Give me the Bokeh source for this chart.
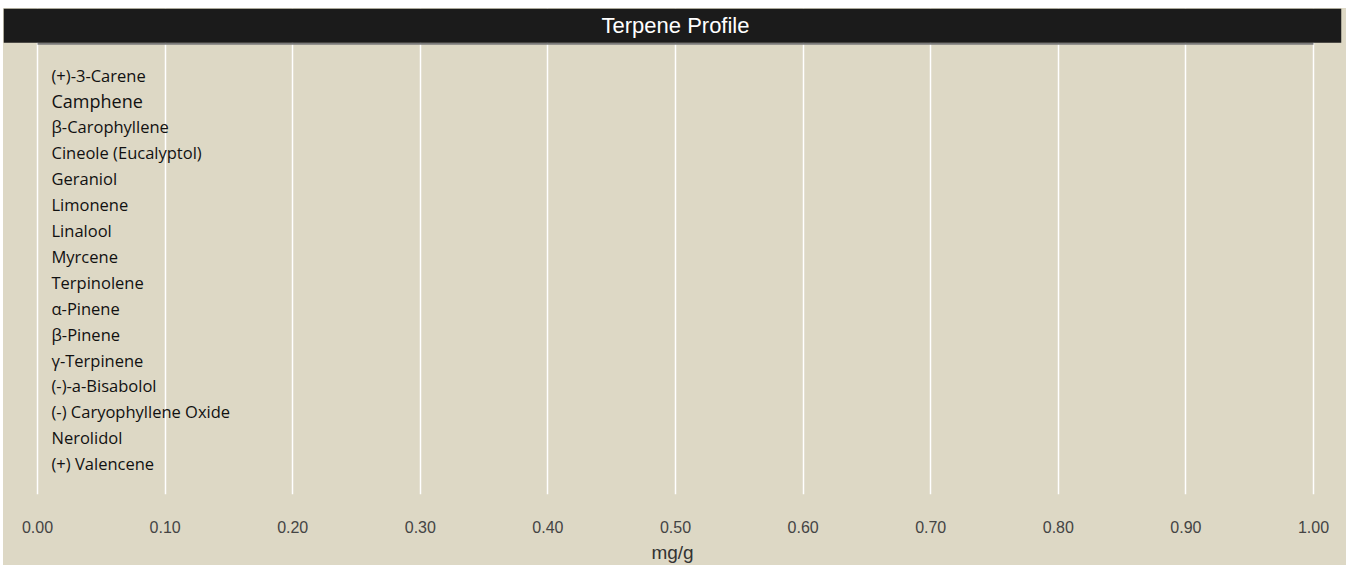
from bokeh.plotting import figure
from bokeh.models import (Range1d, FixedTicker, ColumnDataSource, BoxAnnotation,
                          Label, CustomJSTickFormatter)
from bokeh.core.properties import value
from bokeh.embed import file_html
from bokeh.resources import INLINE

terpenes = ["(+)-3-Carene", "Camphene", "β-Carophyllene", "Cineole (Eucalyptol)",
            "Geraniol", "Limonene", "Linalool", "Myrcene", "Terpinolene",
            "α-Pinene", "β-Pinene", "γ-Terpinene", "(-)-a-Bisabolol",
            "(-) Caryophyllene Oxide", "Nerolidol", "(+) Valencene"]
amounts = [0.0, 0.0, 0.0, 0.0, 0.0, 0.0, 0.0, 0.0, 0.0, 0.0, 0.0, 0.0, 0.0, 0.0, 0.0, 0.0]
tick_values = [0.0, 0.1, 0.2, 0.3, 0.4, 0.5, 0.6, 0.7, 0.8, 0.9, 1.0]
title_text = "Terpene Profile"
x_label = "mg/g"

BG = "#DDD8C5"
n = len(terpenes)
pos = list(range(n))
sizes = ["16.5px"] * n
sizes[1] = "18px"

src = ColumnDataSource(dict(y=pos, name=terpenes, val=amounts, size=sizes,
                            zero=[0.0] * n))

Y_TOP = -2.571
p = figure(width=1343, height=557, output_backend="svg", toolbar_location=None,
           x_range=Range1d(-0.02665, 1.02194), y_range=Range1d(n - 1 + 1.19, Y_TOP),
           y_axis_location=None, min_border_left=0, min_border_right=5,
           min_border_top=0, min_border_bottom=68)
p.margin = (8, 0, 0, 3)
p.styles = {"background-color": BG}
p.background_fill_color = BG
p.background_fill_alpha = 0
p.border_fill_color = BG
p.border_fill_alpha = 0
p.outline_line_color = None

# bars (all values are zero in the reference)
p.hbar(y="y", left="zero", right="val", height=0.6, source=src,
       fill_color="#6a9a3a", line_color=None)

# title bar
p.add_layout(BoxAnnotation(bottom=-1.247, fill_color="#1b1b1b", fill_alpha=1,
                           line_color=None, level="overlay"))
p.segment(x0=[tick_values[0]], x1=[tick_values[-1]], y0=[-1.209], y1=[-1.209],
          line_color="#7a7a7a", line_width=2, level="overlay")
p.add_layout(Label(x=0.5, y=-1.919, text=title_text, text_align="center",
                   text_baseline="middle", text_color="white",
                   text_font="Liberation Sans", text_font_size="22px",
                   level="overlay"))

p.text(x="zero", y="y", text="name", source=src, x_offset=14,
       text_font=value("Open Sans"), text_font_size="size", text_color="#111111",
       text_align="left", text_baseline="middle")

p.xaxis.ticker = FixedTicker(ticks=tick_values)
p.xaxis.formatter = CustomJSTickFormatter(code="return tick.toFixed(2);")
p.xaxis.axis_line_color = None
p.xaxis.major_tick_line_color = None
p.xaxis.minor_tick_line_color = None
p.xaxis.major_label_standoff = 20
p.xaxis.major_label_text_font = "Liberation Sans"
p.xaxis.major_label_text_font_size = "16px"
p.xaxis.major_label_text_color = "#444444"
p.xaxis.axis_label = x_label
p.xaxis.axis_label_text_font = "Liberation Sans"
p.xaxis.axis_label_text_font_size = "19px"
p.xaxis.axis_label_text_font_style = "normal"
p.xaxis.axis_label_text_color = "#333333"
p.xaxis.axis_label_standoff = 6

p.xgrid.grid_line_color = "white"
p.xgrid.grid_line_width = 1.5
p.ygrid.grid_line_color = None

open("out.html", "w").write(file_html(p, INLINE))
